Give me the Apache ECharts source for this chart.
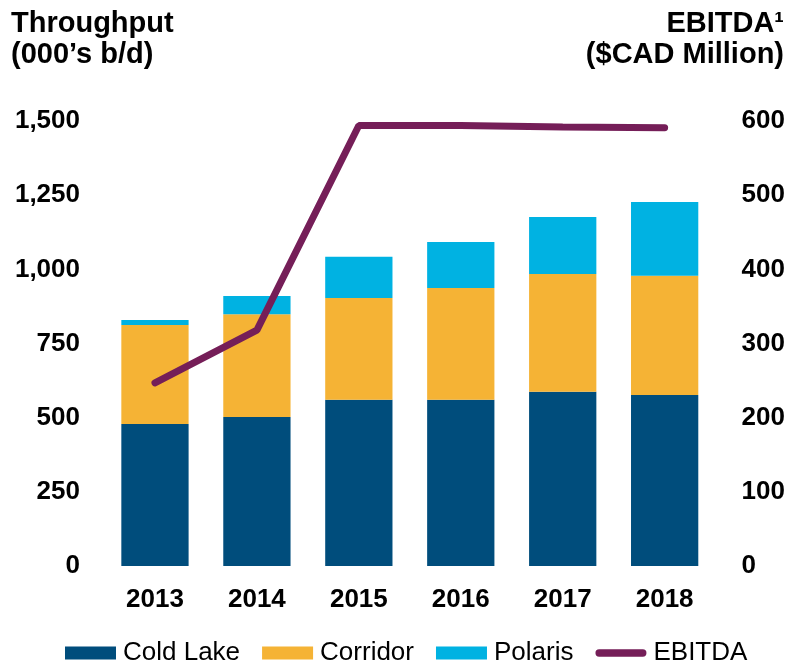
<!DOCTYPE html>
<html>
<head>
<meta charset="utf-8">
<script src="https://cdn.jsdelivr.net/npm/echarts@6/dist/echarts.min.js"></script>
<style>
	html, body { margin: 0; padding: 0; background: #fff; }
	#throughputChart { width: 788px; height: 661px; }
</style>
</head>
<body>
<div id="throughputChart"></div>
<script>
var years = ['2013', '2014', '2015', '2016', '2017', '2018']
var coldLake = [479, 502, 560, 560, 587, 576]
var corridor = [333, 347, 343, 377, 397, 402]
var polaris = [17, 61, 139, 155, 192, 249]
var ebitda = [247, 318, 594, 594, 592, 591]

var leftTicks = { min: 0, max: 1500, interval: 250 }
var rightTicks = { min: 0, max: 600, interval: 100 }

function drawThroughput() {
	var chartDom = document.getElementById('throughputChart')
	var myChart = echarts.init(chartDom)
	var font = "'Liberation Sans', Arial, sans-serif"
	var titleFont = 'bold 29px ' + font
	var option

	option = {
		animation: false,
		textStyle: { fontFamily: font },
		graphic: [
			{
				type: 'text',
				left: 11,
				top: 9,
				style: { text: 'Throughput', font: titleFont, fill: '#000' },
			},
			{
				type: 'text',
				left: 11,
				top: 40,
				style: { text: '(000’s b/d)', font: titleFont, fill: '#000' },
			},
			{
				type: 'text',
				right: 4,
				top: 9,
				style: { text: 'EBITDA¹', font: titleFont, fill: '#000' },
			},
			{
				type: 'text',
				right: 4,
				top: 40,
				style: { text: '($CAD Million)', font: titleFont, fill: '#000' },
			},
		],
		legend: {
			left: 60,
			top: 635,
			itemWidth: 51,
			itemHeight: 13,
			itemGap: 22,
			textStyle: {
				fontFamily: font,
				fontSize: 26,
				color: '#000',
				padding: [0, 0, 0, 2],
			},
			data: [
				{ name: 'Cold Lake', icon: 'rect' },
				{ name: 'Corridor', icon: 'rect' },
				{ name: 'Polaris', icon: 'rect' },
				{ name: 'EBITDA', icon: 'path://M4,0 L51,0 A4,4 0 0 1 51,8 L4,8 A4,4 0 0 1 4,0 Z' },
			],
		},
		grid: {
			left: 104,
			right: 71,
			top: 121,
			bottom: 95,
		},
		xAxis: {
			type: 'category',
			data: years,
			axisLine: { show: false },
			axisTick: { show: false },
			axisLabel: {
				margin: 21,
				fontFamily: font,
				fontSize: 26,
				fontWeight: 'bold',
				color: '#000',
			},
		},
		yAxis: [
			{
				type: 'value',
				min: leftTicks.min,
				max: leftTicks.max,
				interval: leftTicks.interval,
				splitLine: { show: false },
				axisLine: { show: false },
				axisTick: { show: false },
				axisLabel: {
					margin: 24,
					fontFamily: font,
					fontSize: 26,
					fontWeight: 'bold',
					color: '#000',
					formatter: function (v) {
						return v.toLocaleString('en-US')
					},
				},
			},
			{
				type: 'value',
				min: rightTicks.min,
				max: rightTicks.max,
				interval: rightTicks.interval,
				splitLine: { show: false },
				axisLine: { show: false },
				axisTick: { show: false },
				axisLabel: {
					margin: 26,
					fontFamily: font,
					fontSize: 26,
					fontWeight: 'bold',
					color: '#000',
				},
			},
		],
		series: [
			{
				name: 'Cold Lake',
				type: 'bar',
				stack: 'tp',
				barCategoryGap: '34%',
				data: coldLake,
				itemStyle: { color: '#004D7C' },
			},
			{
				name: 'Corridor',
				type: 'bar',
				stack: 'tp',
				data: corridor,
				itemStyle: { color: '#F5B335' },
			},
			{
				name: 'Polaris',
				type: 'bar',
				stack: 'tp',
				data: polaris,
				itemStyle: { color: '#00B2E2' },
			},
			{
				name: 'EBITDA',
				type: 'line',
				yAxisIndex: 1,
				data: ebitda,
				symbol: 'none',
				itemStyle: { color: '#751E58' },
				lineStyle: {
					color: '#751E58',
					width: 7,
					cap: 'round',
				},
			},
		],
	}

	option && myChart.setOption(option)
}

drawThroughput()
</script>
</body>
</html>
